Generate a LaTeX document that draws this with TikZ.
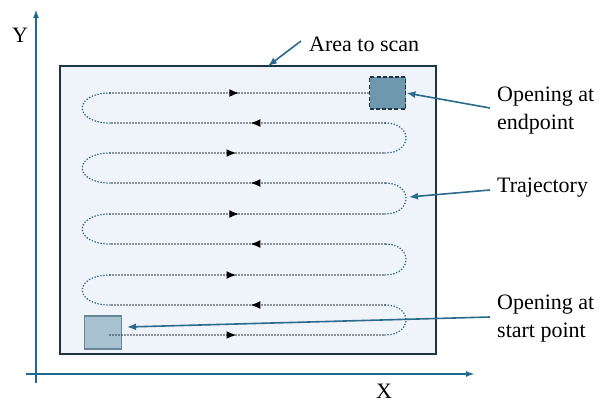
\documentclass[tikz,border=0pt]{standalone}
\usepackage{fontspec}
\setmainfont{Liberation Serif}
\usetikzlibrary{arrows.meta,decorations.markings}
\definecolor{axisblue}{HTML}{1F6A90}
\definecolor{callout}{HTML}{2A6A8C}
\definecolor{areafill}{HTML}{EEF4FA}
\definecolor{areadraw}{HTML}{1E3545}
\definecolor{endfill}{HTML}{6F97AE}
\definecolor{startfill}{HTML}{A9C2D2}
\definecolor{startdraw}{HTML}{6A8595}
\definecolor{dotdark}{HTML}{26323C}
\definecolor{dotblue}{HTML}{3A6A86}
\tikzset{
  axisline/.style={draw=axisblue,line width=1.8pt,-{Latex[length=9pt,width=6pt]}},
  calloutline/.style={draw=callout,line width=1.6pt,-{Latex[length=9pt,width=7pt]}},
  dotline/.style={draw=dotdark,line width=1.9pt,dash pattern=on 0pt off 3pt,line cap=round},
  dotturn/.style={draw=dotblue,line width=1.8pt,dash pattern=on 0pt off 3pt,line cap=round},
  midarrow/.style={postaction={decorate},decoration={markings,
     mark=at position #1 with {\arrow[black]{Latex[length=10pt,width=8pt]}}}},
  lbl/.style={font=\fontsize{22}{28}\selectfont,anchor=west,align=left,inner sep=0pt},
}
\begin{document}
\begin{tikzpicture}[x=1pt,y=-1pt]
\useasboundingbox (0,0) rectangle (607,402);
% axes
\coordinate (yb) at (36,383);
\coordinate (yt) at (36,9);
\coordinate (xl) at (26,374);
\coordinate (xr) at (475,374);
\draw[axisline] (yb) -- (yt);
\draw[axisline] (xl) -- (xr);
\node[font=\fontsize{22}{24}\selectfont,inner sep=0pt] (ylbl) at (20,35) {Y};
\node[font=\fontsize{22}{24}\selectfont,inner sep=0pt] (xlbl) at (384,391) {X};
% area
\node[draw=areadraw,fill=areafill,line width=1.8pt,minimum width=376pt,minimum height=288pt,inner sep=0pt,anchor=north west] (area) at (59,65) {};
% boxes
\node[draw=areadraw,fill=endfill,line width=1.8pt,dash pattern=on 4pt off 2.2pt,minimum width=36pt,minimum height=32pt,inner sep=0pt] (endbox) at (387.5,93) {};
\node[draw=startdraw,fill=startfill,line width=1.8pt,minimum width=37pt,minimum height=33pt,inner sep=0pt] (startbox) at (103,332.5) {};
% trajectory
\def\xl{110}\def\xr{385}
\foreach \ya/\yb/\pos in {335/305/0.46, 275/244/0.46, 214/183/0.47, 153/123/0.46}{
  \draw[dotline,midarrow=\pos] (\xl,\ya) -- (\xr,\ya);
  \draw[dotturn] (\xr,\ya) .. controls (413,\ya) and (413,\yb) .. (\xr,\yb);
}
\foreach \ya/\yb/\pos in {305/275/0.49, 244/214/0.49, 183/153/0.49, 123/93/0.49}{
  \draw[dotline,midarrow=\pos] (\xr,\ya) -- (\xl,\ya);
  \draw[dotturn] (\xl,\ya) .. controls (73,\ya) and (73,\yb) .. (\xl,\yb);
}
\draw[dotline,midarrow=0.5] (\xl,93) -- (endbox.west);
% labels
\node[lbl] (areatxt) at (309,44) {Area to scan};
\node[lbl] (endtxt) at (497,111) {Opening at\\endpoint};
\node[lbl] (trajtxt) at (497,188) {Trajectory};
\node[lbl] (starttxt) at (497,319) {Opening at\\start point};
\coordinate (areatip) at (268,66);
\coordinate (areafrom) at (301,41);
\coordinate (trajtip) at (409,197);
\coordinate (starttip) at (127,327);
\draw[calloutline] (areafrom) -- (areatip);
\draw[calloutline] (endtxt.west) ++(-7,-3) -- (endbox.east);
\draw[calloutline] (trajtxt.west) ++(-7,2) -- (trajtip);
\draw[calloutline] (starttxt.west) ++(-7,-2) -- (starttip);
\end{tikzpicture}
\end{document}
